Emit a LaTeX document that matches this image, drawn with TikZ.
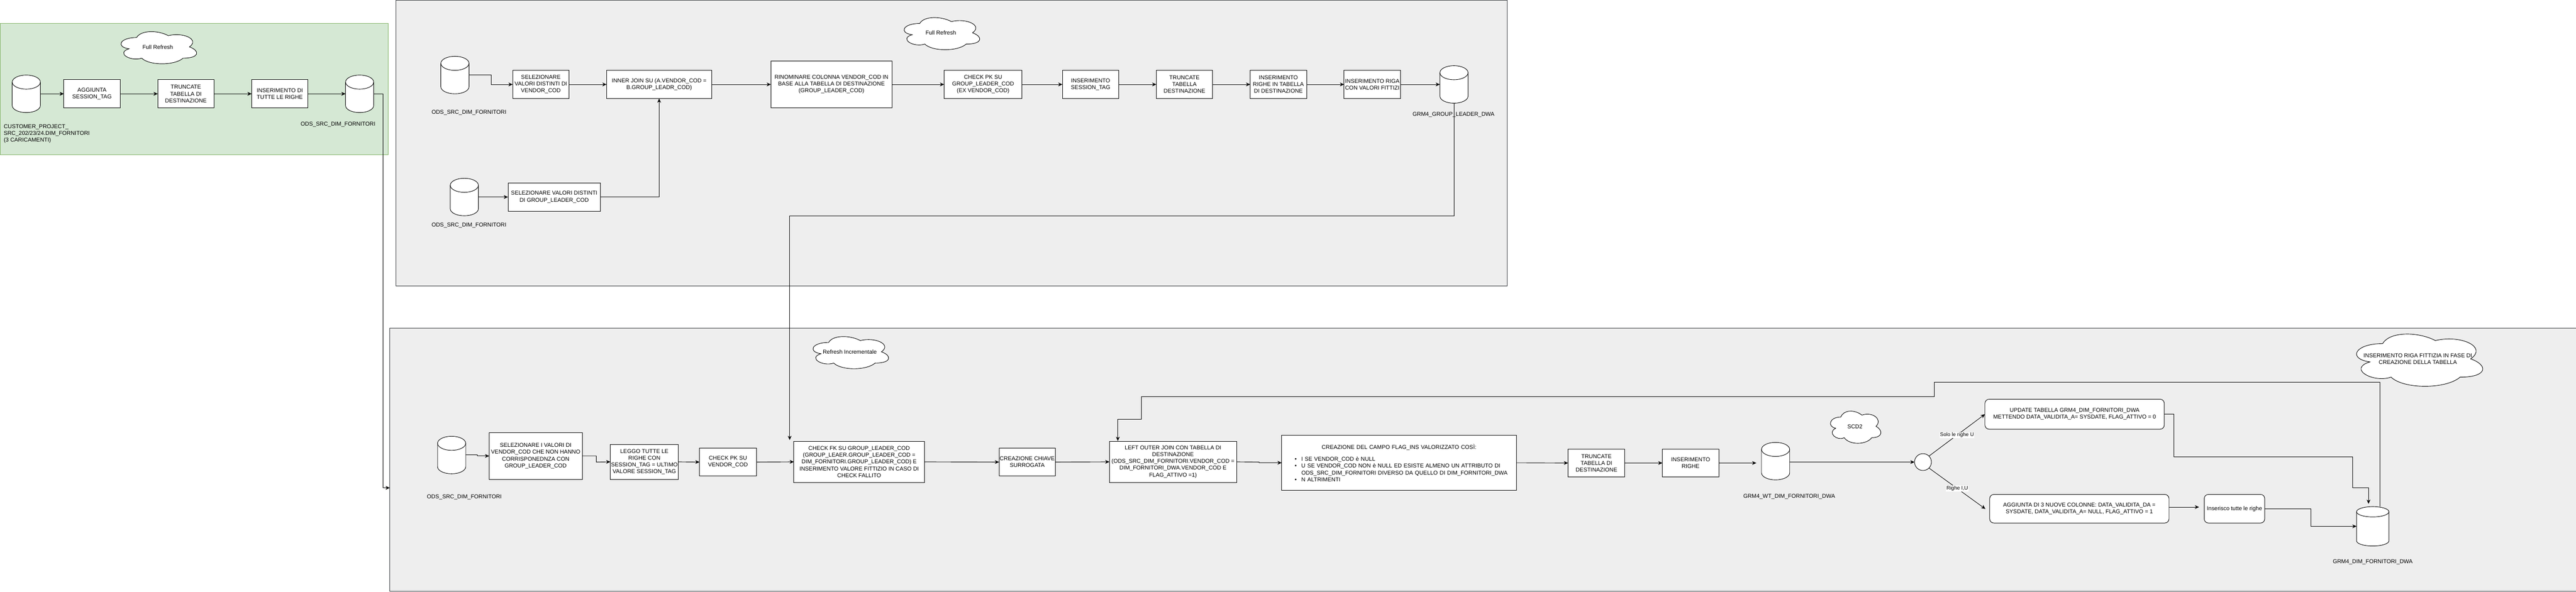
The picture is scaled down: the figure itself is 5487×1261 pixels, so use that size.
\documentclass[tikz,border=0pt]{standalone}
\usepackage{fontspec}
\setmainfont{Liberation Sans}
\usetikzlibrary{arrows.meta,calc,shapes.geometric}
\definecolor{panelfill}{HTML}{EEEEEE}
\definecolor{panelline}{HTML}{36393D}
\definecolor{greenfill}{HTML}{D5E8D4}
\definecolor{greenline}{HTML}{82B366}
\tikzset{
  panel/.style={rectangle,draw=panelline,fill=panelfill,line width=1pt,inner sep=0pt,outer sep=0pt},
  greenpanel/.style={panel,draw=greenline,fill=greenfill},
  bx/.style={rectangle,draw=black,fill=white,line width=1pt,inner sep=0pt,outer sep=0pt,align=center,
    font=\fontsize{12pt}{14.4pt}\selectfont},
  rbx/.style={bx,rounded corners=9pt},
  lbl/.style={inner sep=0pt,outer sep=0pt,align=center,font=\fontsize{12pt}{14.4pt}\selectfont,text=black},
  elabel/.style={fill=white,inner sep=1pt,font=\fontsize{11pt}{13pt}\selectfont},
  cylbody/.style={rectangle,inner sep=0pt,outer sep=0pt},
  cylline/.style={draw=black,fill=white,line width=1pt},
  cloudline/.style={draw=black,fill=white,line width=1pt},
  conn/.style={draw=black,line width=1pt,-{Stealth[length=9pt,width=8pt]}},
  plainline/.style={draw=black,line width=1pt},
}
% name, centre x, centre y, width, height, rim half height
\newcommand{\dbcyl}[6]{%
  \node[cylbody,minimum width=#4pt,minimum height=#5pt] (#1) at (#2,#3) {};
  \path[cylline] ([yshift=-#6pt]#1.north west) -- ([yshift=#6pt]#1.south west)
     arc[start angle=180,end angle=360,x radius=#4pt/2,y radius=#6pt]
     -- ([yshift=-#6pt]#1.north east)
     arc[start angle=0,end angle=180,x radius=#4pt/2,y radius=#6pt] -- cycle;
  \draw[line width=1pt] ([yshift=-#6pt]#1.north west)
     arc[start angle=180,end angle=360,x radius=#4pt/2,y radius=#6pt];
}
% name, left, top, width, height, text
\newcommand{\cloudbox}[6]{%
  \begin{scope}[shift={(#2,#3)},x=#4pt,y=-#5pt]
    \path[cloudline] (0.25,0.25) .. controls (0.05,0.25) and (0,0.5) .. (0.16,0.55)
      .. controls (0,0.66) and (0.18,0.9) .. (0.31,0.8)
      .. controls (0.4,1) and (0.7,1) .. (0.8,0.8)
      .. controls (1,0.8) and (1,0.6) .. (0.875,0.5)
      .. controls (1,0.3) and (0.8,0.1) .. (0.625,0.2)
      .. controls (0.5,0.05) and (0.3,0.05) .. (0.25,0.25) -- cycle;
    \node[lbl] (#1) at (0.5,0.5) {#6};
  \end{scope}
}
\begin{document}
\begin{tikzpicture}[x=1pt,y=-1pt]
\useasboundingbox (0,0) rectangle (5487,1261);
\fill[white] (0,0) rectangle (5487,1261);

% panels
\node[greenpanel,minimum width=827pt,minimum height=280pt] (pgreen) at (413.5,190) {};
\node[panel,minimum width=2366.7pt,minimum height=610pt] (pone) at (2026.6,305) {};
\node[panel,minimum width=4657.7pt,minimum height=560pt] (ptwo) at (3159.2,980) {};

% clouds
\cloudbox{clA}{246}{60}{180}{80}{Full Refresh}
\cloudbox{clB}{1914}{30}{180}{80}{Full Refresh}
\cloudbox{clC}{1720}{710}{180}{80}{Refresh Incrementale}
\cloudbox{clD}{3891}{869}{120}{80}{SCD2}
\cloudbox{clE}{5000}{700}{300}{130}{INSERIMENTO RIGA FITTIZIA IN FASE DI\\CREAZIONE DELLA TABELLA}

% cylinders
\dbcyl{cOne}{56}{200}{60}{80}{15}
\dbcyl{cTwo}{766}{200}{60}{80}{15}
\dbcyl{cA}{969}{160}{60}{80}{15}
\dbcyl{cB}{989}{420}{60}{80}{15}
\dbcyl{cC}{962}{970}{60}{80}{15}
\dbcyl{cG}{3097}{180}{60}{80}{15}
\dbcyl{cW}{3782}{983}{60}{80}{15}
\dbcyl{cD}{5054}{1122}{69}{84}{11}

% top-left group
\node[bx,minimum width=120pt,minimum height=60pt] (agg1) at (196,200) {AGGIUNTA\\SESSION\_TAG};
\node[bx,minimum width=120pt,minimum height=60pt] (tr1) at (396,200) {TRUNCATE\\TABELLA DI\\DESTINAZIONE};
\node[bx,minimum width=120pt,minimum height=60pt] (ins1) at (596,200) {INSERIMENTO DI\\TUTTE LE RIGHE};

% top-right group
\node[bx,minimum width=120pt,minimum height=60pt] (vsel) at (1152,180) {SELEZIONARE\\VALORI DISTINTI DI\\VENDOR\_COD};
\node[bx,minimum width=224pt,minimum height=60pt] (ijoin) at (1404,180) {INNER JOIN SU (A.VENDOR\_COD =\\B.GROUP\_LEADR\_COD)};
\node[bx,minimum width=258pt,minimum height=100pt] (rino) at (1771,180) {RINOMINARE COLONNA VENDOR\_COD IN\\BASE ALLA TABELLA DI DESTINAZIONE\\(GROUP\_LEADER\_COD)};
\node[bx,minimum width=166pt,minimum height=60pt] (pkA) at (2094,180) {CHECK PK SU\\GROUP\_LEADER\_COD\\(EX VENDOR\_COD)};
\node[bx,minimum width=120pt,minimum height=60pt] (ses) at (2323,180) {INSERIMENTO\\SESSION\_TAG};
\node[bx,minimum width=120pt,minimum height=60pt] (trA) at (2523,180) {TRUNCATE\\TABELLA\\DESTINAZIONE};
\node[bx,minimum width=120pt,minimum height=60pt] (insA) at (2723,180) {INSERIMENTO\\RIGHE IN TABELLA\\DI DESTINAZIONE};
\node[bx,minimum width=120pt,minimum height=60pt] (riga) at (2923,180) {INSERIMENTO RIGA\\CON VALORI FITTIZI};
\node[bx,minimum width=197pt,minimum height=60pt] (gsel) at (1180.5,420) {SELEZIONARE VALORI DISTINTI\\DI GROUP\_LEADER\_COD};

% bottom group
\node[bx,minimum width=198pt,minimum height=100pt] (selC) at (1141,972) {SELEZIONARE I VALORI DI\\VENDOR\_COD CHE NON HANNO\\CORRISPONEDNZA CON\\GROUP\_LEADER\_COD};
\node[bx,minimum width=145pt,minimum height=75pt] (leggo) at (1372.5,984.5) {LEGGO TUTTE LE\\RIGHE CON\\SESSION\_TAG = ULTIMO\\VALORE SESSION\_TAG};
\node[bx,minimum width=121pt,minimum height=60pt] (pkB) at (1550.5,985) {CHECK PK SU\\VENDOR\_COD};
\node[bx,minimum width=278pt,minimum height=88pt] (fk) at (1830,984.5) {CHECK FK SU GROUP\_LEADER\_COD\\(GROUP\_LEAER.GROUP\_LEADER\_COD =\\DIM\_FORNITORI.GROUP\_LEADER\_COD) E\\INSERIMENTO VALORE FITTIZIO IN CASO DI\\CHECK FALLITO};
\node[bx,minimum width=120pt,minimum height=60pt] (chiave) at (2188,985) {CREAZIONE CHIAVE\\SURROGATA};
\node[bx,minimum width=271pt,minimum height=88pt] (lojoin) at (2498.5,984.5) {LEFT OUTER JOIN CON TABELLA DI\\DESTINAZIONE\\(ODS\_SRC\_DIM\_FORNITORI.VENDOR\_COD =\\DIM\_FORNITORI\_DWA.VENDOR\_COD E\\FLAG\_ATTIVO =1)};
\node[bx,minimum width=500pt,minimum height=117pt,text width=500pt,align=left] (flag) at (2980,986.5) {%
\makebox[500pt][c]{CREAZIONE DEL CAMPO FLAG\_INS VALORIZZATO COSÌ:}\\[11.6pt]
\hspace*{28pt}\makebox[14pt][l]{\textbullet}I SE VENDOR\_COD è NULL\\
\hspace*{28pt}\makebox[14pt][l]{\textbullet}U SE VENDOR\_COD NON è NULL ED ESISTE ALMENO UN ATTRIBUTO DI\\
\hspace*{42pt}ODS\_SRC\_DIM\_FORNITORI DIVERSO DA QUELLO DI DIM\_FORNITORI\_DWA\\
\hspace*{28pt}\makebox[14pt][l]{\textbullet}N ALTRIMENTI};
\node[bx,minimum width=121pt,minimum height=60pt] (trC) at (3400.5,987) {TRUNCATE\\TABELLA DI\\DESTINAZIONE};
\node[bx,minimum width=120pt,minimum height=60pt] (insC) at (3601,987) {INSERIMENTO\\RIGHE};
\node[bx,circle,minimum size=36pt] (split) at (4096,985) {};
\node[rbx,minimum width=382pt,minimum height=64pt] (upd) at (4419,883) {UPDATE TABELLA GRM4\_DIM\_FORNITORI\_DWA\\METTENDO DATA\_VALIDITA\_A= SYSDATE, FLAG\_ATTIVO = 0};
\node[rbx,minimum width=382pt,minimum height=61pt] (aggC) at (4429,1084.5) {AGGIUNTA DI 3 NUOVE COLONNE: DATA\_VALIDITA\_DA =\\SYSDATE, DATA\_VALIDITA\_A= NULL, FLAG\_ATTIVO = 1};
\node[rbx,minimum width=129pt,minimum height=61pt] (ino) at (4759.5,1084.5) {Inserisco tutte le righe};

% plain labels
\node[lbl,anchor=west,align=left] (lOne) at (8,285) {CUSTOMER\_PROJECT\_\\SRC\_202/23/24.DIM\_FORNITORI\\(3 CARICAMENTI)};
\node[lbl] (lTwo) at (720,265) {ODS\_SRC\_DIM\_FORNITORI};
\node[lbl] (lA) at (999,240) {ODS\_SRC\_DIM\_FORNITORI};
\node[lbl] (lB) at (999,480) {ODS\_SRC\_DIM\_FORNITORI};
\node[lbl] (lC) at (989,1060) {ODS\_SRC\_DIM\_FORNITORI};
\node[lbl] (lG) at (3096,245) {GRM4\_GROUP\_LEADER\_DWA};
\node[lbl] (lW) at (3811,1059) {GRM4\_WT\_DIM\_FORNITORI\_DWA};
\node[lbl] (lD) at (5054,1198.5) {GRM4\_DIM\_FORNITORI\_DWA};

% free connector ends
\coordinate (toPanel) at (816,1040);
\coordinate (fkTip) at (1682,938);
\coordinate (cwTip) at (3741,987);
\coordinate (cdTip) at (5045,1074);
\coordinate (aggTip) at (4684,1081);
\coordinate (aggTail) at (4620,1081);

% connectors, top left
\draw[conn] (cOne.east) -- (agg1.west);
\draw[conn] (agg1.east) -- (tr1.west);
\draw[conn] (tr1.east) -- (ins1.west);
\draw[conn] (ins1.east) -- (cTwo.west);
\draw[conn] (cTwo.east) -- (816,200) -- (toPanel) -- (toPanel -| ptwo.west);

% connectors, top right
\draw[conn] (cA.east) -- (1046,160) -- (1046,180) -- (vsel.west);
\draw[conn] (vsel.east) -- (ijoin.west);
\draw[conn] (cB.east) -- (gsel.west);
\draw[conn] (gsel.east) -| (ijoin.south);
\draw[conn] (ijoin.east) -- (rino.west);
\draw[conn] (rino.east) -- (pkA.west);
\draw[conn] (pkA.east) -- (ses.west);
\draw[conn] (ses.east) -- (trA.west);
\draw[conn] (trA.east) -- (insA.west);
\draw[conn] (insA.east) -- (riga.west);
\draw[conn] (riga.east) -- (cG.west);
\draw[conn] (cG.south) -- (3097,460) -- (1682,460) -- (fkTip);

% connectors, bottom
\draw[conn] (cC.east) -- (1017,970) -- (1017,972) -- (selC.west);
\draw[conn] (selC.east) -- (1270,972) -- (1270,985) -- (leggo.west);
\draw[conn] (leggo.east) -- (pkB.west);
\draw[conn] (pkB.east) -- (fk.west);
\draw[conn] (fk.east) -- (chiave.west);
\draw[conn] (chiave.east) -- (lojoin.west);
\draw[conn] (lojoin.east) -- (2682,985) -- (2682,986.5) -- (flag.west);
\draw[conn] (flag.east) -- (trC.west);
\draw[conn] (trC.east) -- (insC.west);
\draw[conn] (insC.east) -- (cwTip);
\draw[conn] ([yshift=-2pt]cW.east) -- (split.west);
\draw[conn] (split.45) -- node[elabel,midway] (eU) {Solo le righe U} (upd.west);
\draw[conn] (split.-45) -- node[elabel,midway] (eI) {Righe I,U} (4229,1085);
\draw[conn] (upd.east) -- (4630,883) -- (4630,974) -- (5011,974) -- (5011,1040) -- (5045,1040) -- (cdTip);
\draw[conn] (aggTail) -- (aggTip);
\draw[plainline] (ino.east) -- (4922,1084.5) -- (4922,1122);
\draw[conn] (4922,1122) -- (cD.west);
\draw[conn] ([xshift=15pt]cD.north) -- (5069,815) -- (4120,815) -- (4120,845) -- (2431,845) -- (2431,894) -- (2381,894) -- (2381,940);
\end{tikzpicture}
\end{document}
